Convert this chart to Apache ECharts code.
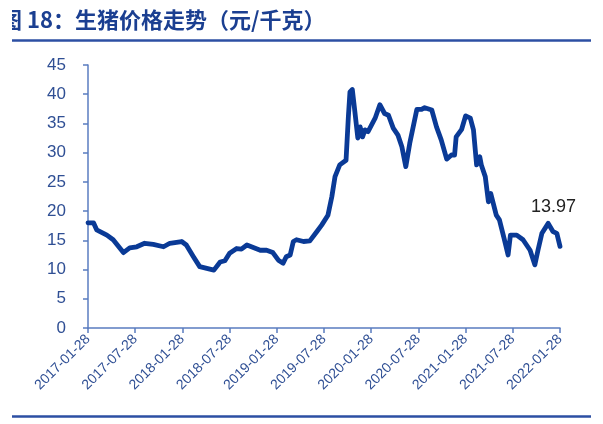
<!DOCTYPE html>
<html>
<head>
<meta charset="utf-8">
<script src="https://cdn.jsdelivr.net/npm/echarts@6/dist/echarts.min.js"></script>
<style>
  html, body { margin: 0; padding: 0; background: #fff; }
  #main { width: 603px; height: 424px; }
</style>
</head>
<body>
<div id="main"></div>
<script>
// 图 18：生猪价格走势（元/千克）
var titleText = '图 18：生猪价格走势（元/千克）';

// x 轴标签（每半年一个刻度，x 值为距 2017-01-28 的月数）
var xLabels = ['2017-01-28', '2017-07-28', '2018-01-28', '2018-07-28', '2019-01-28',
  '2019-07-28', '2020-01-28', '2020-07-28', '2021-01-28', '2021-07-28', '2022-01-28'];

// 月数偏移
var months = [0, 0.7, 1.1, 2.4, 3.2, 4.5, 5.3, 6.2, 7.2, 8.3, 9.6, 10.4, 11.9, 12.5, 13.4,
  14.2, 15.1, 16.0, 16.8, 17.4, 18.0, 18.9, 19.5, 20.2, 21.9, 22.7, 23.5, 24.2, 24.8,
  25.2, 25.7, 26.1, 26.5, 27.4, 28.2, 29.1, 29.7, 30.5, 31.0, 31.4, 32.0, 32.8, 33.1,
  33.3, 33.6, 33.9, 34.3, 34.6, 34.9, 35.2, 35.6, 36.5, 37.1, 37.7, 38.2, 38.8, 39.4,
  39.9, 40.4, 40.9, 41.8, 42.4, 42.8, 43.7, 44.3, 44.9, 45.6, 46.2, 46.6, 46.8, 47.5,
  48.0, 48.6, 49.0, 49.4, 49.8, 50.0, 50.5, 50.9, 51.2, 51.9, 52.3, 52.9, 53.4, 53.7,
  54.5, 55.3, 56.2, 56.8, 57.2, 57.7, 58.5, 59.1, 59.6, 60.0];

// 生猪价格（元/千克）
var prices = [18.0, 18.0, 16.8, 15.9, 15.1, 12.9, 13.7, 13.9, 14.5, 14.3, 13.9, 14.5, 14.8, 14.2, 12.2,
  10.5, 10.2, 9.9, 11.3, 11.5, 12.8, 13.6, 13.5, 14.2, 13.3, 13.3, 12.9, 11.6, 11.1,
  12.2, 12.5, 14.8, 15.1, 14.8, 14.9, 16.5, 17.6, 19.3, 22.5, 25.9, 27.9, 28.7, 36.2,
  40.4, 40.8, 37.3, 32.5, 34.4, 32.7, 33.9, 33.6, 35.9, 38.2, 36.7, 36.4, 34.2, 33.0,
  31.0, 27.6, 31.6, 37.4, 37.4, 37.7, 37.3, 34.4, 32.2, 28.9, 29.6, 29.6, 32.7, 34.0,
  36.3, 35.9, 33.9, 27.9, 29.3, 27.9, 25.9, 21.6, 23.0, 19.3, 18.5, 15.3, 12.5, 15.9,
  15.9, 15.1, 13.3, 10.8, 13.3, 16.2, 17.9, 16.5, 16.2, 13.97];

var lastLabel = '13.97';

var seriesData = months.map(function (m, i) {
  if (i === months.length - 1) {
    return {
      value: [m, prices[i]],
      label: {
        show: true,
        position: 'top',
        offset: [-6.5, -25],
        formatter: lastLabel,
        color: '#222',
        fontSize: 18,
        fontFamily: 'Liberation Sans'
      }
    };
  }
  return [m, prices[i]];
});

var axisColor = '#5a7cc0';
var labelColor = '#2f4f94';

var chart = echarts.init(document.getElementById('main'));
chart.setOption({
  animation: false,
  grid: { left: 88, right: 43, top: 65, bottom: 96 },
  xAxis: {
    type: 'value',
    min: 0,
    max: 60,
    interval: 6,
    splitLine: { show: false },
    axisLine: { lineStyle: { color: axisColor, width: 1.5 } },
    axisTick: { show: true, length: 5, lineStyle: { color: axisColor, width: 1.5 } },
    axisLabel: {
      rotate: 45,
      color: labelColor,
      fontSize: 14,
      fontFamily: 'Liberation Sans',
      margin: 9,
      formatter: function (v) { return xLabels[Math.round(v / 6)]; }
    }
  },
  yAxis: {
    type: 'value',
    min: 0,
    max: 45,
    interval: 5,
    splitLine: { show: false },
    axisLine: { show: true, lineStyle: { color: axisColor, width: 1.5 } },
    axisTick: { show: true, length: 5, lineStyle: { color: axisColor, width: 1.5 } },
    axisLabel: {
      color: labelColor,
      fontSize: 17,
      fontFamily: 'Liberation Sans',
      margin: 22
    }
  },
  series: [{
    type: 'line',
    data: seriesData,
    symbol: 'circle',
    symbolSize: 0,
    showSymbol: true,
    showAllSymbol: true,
    lineStyle: { color: '#0a3a96', width: 4.8, join: 'round', cap: 'round' },
    itemStyle: { color: '#0a3a96' }
  }],
  graphic: [
    {
      type: 'text',
      left: 0,
      top: 9,
      style: {
        text: titleText,
        fill: '#1b3f91',
        font: 'bold 22px "Noto Sans CJK SC"'
      }
    },
    {
      type: 'rect',
      shape: { x: 0, y: 0, width: 12, height: 38 },
      style: { fill: '#fff' },
      z: 100
    },
    {
      type: 'line',
      shape: { x1: 12, y1: 40.5, x2: 591, y2: 40.5 },
      style: { stroke: '#2c4fa3', lineWidth: 2.5 }
    },
    {
      type: 'line',
      shape: { x1: 12, y1: 416.5, x2: 591, y2: 416.5 },
      style: { stroke: '#2c4fa3', lineWidth: 2.5 }
    }
  ]
});
</script>
</body>
</html>
